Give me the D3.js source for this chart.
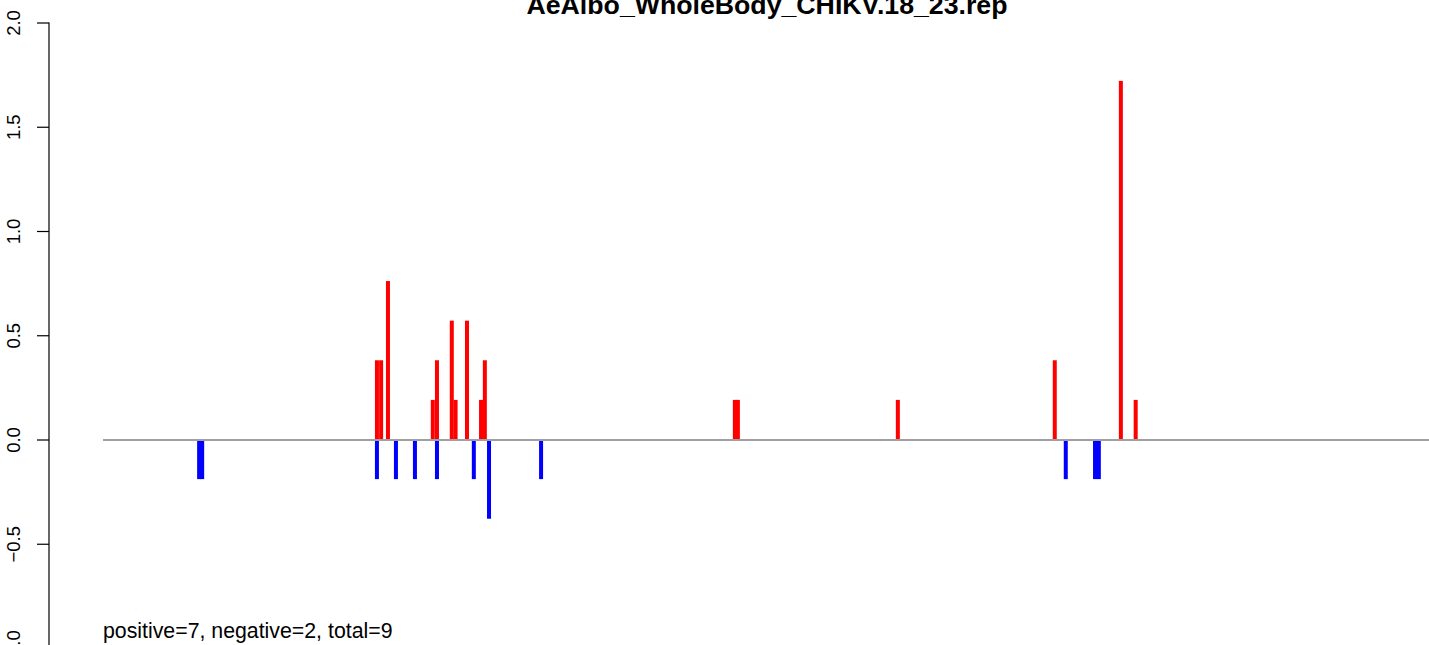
<!DOCTYPE html>
<html>
<head>
<meta charset="utf-8">
<script src="https://cdn.jsdelivr.net/npm/d3@7"></script>
<style>
  html, body { margin: 0; padding: 0; background: #fff; }
  svg { display: block; font-family: "Liberation Sans", Arial, Helvetica, sans-serif; }
</style>
</head>
<body>
<svg id="chart" width="1429" height="645"></svg>
<script>
// ---- data ----
const chartTitle = "AeAlbo_WholeBody_CHIKV.18_23.rep";
const summaryText = "positive=7, negative=2, total=9";

// positive (red) bars: position index and value
const posPositive = [72.1, 73.2, 75.0, 86.8, 87.9, 91.8, 92.8, 95.8, 99.5, 100.5, 166.3, 167.1, 209.2, 250.5, 267.9, 271.8];
const valPositive = [0.38, 0.38, 0.76, 0.19, 0.38, 0.57, 0.19, 0.57, 0.19, 0.38, 0.19, 0.19, 0.19, 0.38, 1.72, 0.19];

// negative (blue) bars: position index and value
const posNegative = [25.3, 26.1, 72.1, 77.1, 82.1, 87.9, 97.6, 101.6, 115.3, 253.4, 261.1, 262.1];
const valNegative = [-0.19, -0.19, -0.19, -0.19, -0.19, -0.19, -0.19, -0.38, -0.19, -0.19, -0.19, -0.19];

const yTicks = [-1.0, -0.5, 0.0, 0.5, 1.0, 1.5, 2.0];
const xDomain = [0, 349];

// ---- layout ----
const svg = d3.select("#chart");
const x = d3.scaleLinear().domain(xDomain).range([103, 1429]);
const y = d3.scaleLinear().domain([0, 2]).range([439.5, 22.5]);
const barW = 4;

// bars
const pos = posPositive.map((p, i) => ({ p, v: valPositive[i] }));
const neg = posNegative.map((p, i) => ({ p, v: valNegative[i] }));

svg.append("g").selectAll("rect").data(pos).enter().append("rect")
  .attr("x", d => x(d.p) - barW / 2)
  .attr("width", barW)
  .attr("y", d => y(d.v))
  .attr("height", d => y(0) - y(d.v))
  .attr("fill", "#ff0000");

svg.append("g").selectAll("rect").data(neg).enter().append("rect")
  .attr("x", d => x(d.p) - barW / 2)
  .attr("width", barW)
  .attr("y", y(0))
  .attr("height", d => y(d.v) - y(0))
  .attr("fill", "#0000ff");

// zero line
svg.append("line")
  .attr("x1", x(xDomain[0])).attr("x2", x(xDomain[1]))
  .attr("y1", y(0) + 0.5).attr("y2", y(0) + 0.5)
  .attr("stroke", "#a0a0a0").attr("stroke-width", 2);

// y axis
const axisX = 49;
const yAxis = d3.axisLeft(y).tickValues(yTicks).tickSize(12).tickFormat(d3.format(".1f"));
const gAxis = svg.append("g").attr("transform", `translate(${axisX},0)`).call(yAxis);
gAxis.select(".domain").remove();
gAxis.append("line")
  .attr("x1", 0).attr("x2", 0)
  .attr("y1", y(2)).attr("y2", y(-1))
  .attr("stroke", "#000").attr("stroke-width", 1.2);
gAxis.selectAll(".tick line").attr("stroke", "#000").attr("stroke-width", 1.2);
gAxis.selectAll(".tick text")
  .attr("x", null).attr("dy", null)
  .attr("text-anchor", "middle")
  .attr("fill", "#000")
  .style("font-size", "18.5px")
  .style("font-family", "'Liberation Sans', Arial, sans-serif")
  .attr("transform", function(d) { return `translate(${20 - axisX},0) rotate(-90)`; })
  .text(d => d3.format(".1f")(d).replace("-", "\u2212"));

// title
svg.append("text")
  .attr("x", 767).attr("y", 14)
  .attr("text-anchor", "middle")
  .style("font-size", "26.7px").style("font-weight", "bold")
  .text(chartTitle);

// summary
svg.append("text")
  .attr("x", 103).attr("y", 638)
  .style("font-size", "21.3px")
  .text(summaryText);
</script>
</body>
</html>
